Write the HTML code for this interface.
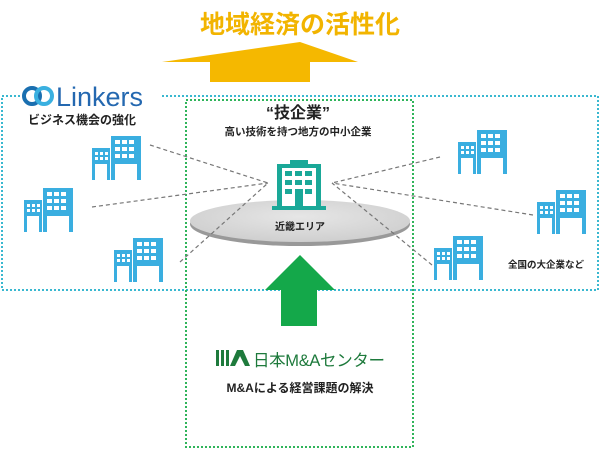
<!DOCTYPE html>
<html><head><meta charset="utf-8"><style>
body{margin:0;width:600px;height:451px;background:#fff;overflow:hidden;font-family:"Liberation Sans","Noto Sans CJK JP",sans-serif;}
</style></head><body>
<svg width="600" height="451" viewBox="0 0 600 451" xmlns="http://www.w3.org/2000/svg" font-family="Liberation Sans, Noto Sans CJK JP, sans-serif">
<defs>
<g id="bld" fill="#3aaee0">
<path d="M0 12h18v32h-3v-16h-12v16h-3z"/>
<path d="M19 0h30v44h-4v-16h-22v16h-4z"/>
<g fill="#fff">
<rect x="3" y="16" width="3" height="3"/><rect x="8" y="16" width="3" height="3"/><rect x="13" y="16" width="3" height="3"/>
<rect x="3" y="21" width="3" height="3"/><rect x="8" y="21" width="3" height="3"/><rect x="13" y="21" width="3" height="3"/>
<rect x="23" y="4" width="5" height="4"/><rect x="30" y="4" width="5" height="4"/><rect x="37" y="4" width="5" height="4"/>
<rect x="23" y="11" width="5" height="4"/><rect x="30" y="11" width="5" height="4"/><rect x="37" y="11" width="5" height="4"/>
<rect x="23" y="18" width="5" height="4"/><rect x="30" y="18" width="5" height="4"/><rect x="37" y="18" width="5" height="4"/>
</g></g>
<radialGradient id="el" cx="50%" cy="40%" r="60%"><stop offset="0" stop-color="#e6e6e6"/><stop offset="1" stop-color="#cfcfcf"/></radialGradient>
</defs>
<text x="300" y="33" text-anchor="middle" font-size="25" font-weight="bold" fill="#f2b400">地域経済の活性化</text>
<polygon points="162,62 300,42 358,62" fill="#f5b800"/>
<rect x="210" y="62" width="100" height="20" fill="#f5b800"/>
<rect x="2" y="96" width="596" height="194" fill="none" stroke="#3ab8d0" stroke-width="2" stroke-dasharray="2,2"/>
<rect x="186" y="100" width="227" height="347" fill="none" stroke="#2fb45a" stroke-width="2" stroke-dasharray="2,2"/>
<rect x="20" y="82" width="140" height="28" fill="#fff"/>
<g fill="none" stroke-width="4"><circle cx="32" cy="96" r="8" stroke="#1a6fb0"/><circle cx="44" cy="96" r="8" stroke="#3ab0e0"/></g>
<text x="56" y="106" font-size="27" fill="#2468b0">Linkers</text>
<text x="28" y="124" font-size="12" font-weight="bold" fill="#222">ビジネス機会の強化</text>
<text x="298" y="118" text-anchor="middle" font-size="16" font-weight="bold" fill="#222">“技企業”</text>
<text x="298" y="135" text-anchor="middle" font-size="10.5" font-weight="bold" fill="#222">高い技術を持つ地方の中小企業</text>
<ellipse cx="300" cy="224" rx="110" ry="22" fill="#999"/>
<ellipse cx="300" cy="221" rx="110" ry="21" fill="url(#el)"/>
<g stroke="#777" stroke-width="1.2" stroke-dasharray="4,3" fill="none">
<line x1="150" y1="145" x2="268" y2="183"/><line x1="92" y1="207" x2="268" y2="183"/><line x1="180" y1="262" x2="268" y2="183"/>
<line x1="440" y1="157" x2="332" y2="183"/><line x1="533" y1="215" x2="332" y2="183"/><line x1="432" y1="265" x2="332" y2="183"/>
</g>
<g fill="#1aa898">
<rect x="290" y="160" width="18" height="5"/>
<path d="M277 164h44v44h-44z"/>
</g>
<rect x="272" y="206" width="54" height="4" fill="#1aa898"/>
<rect x="282" y="168" width="34" height="38" fill="#fff"/>
<g fill="#1aa898">
<rect x="285" y="171" width="7" height="5"/><rect x="295" y="171" width="7" height="5"/><rect x="305" y="171" width="7" height="5"/>
<rect x="285" y="180" width="7" height="5"/><rect x="295" y="180" width="7" height="5"/><rect x="305" y="180" width="7" height="5"/>
<rect x="285" y="189" width="7" height="5"/><rect x="305" y="189" width="7" height="5"/>
<rect x="295" y="189" width="8" height="18"/>
</g>
<text x="300" y="230" text-anchor="middle" font-size="10" font-weight="bold" fill="#222">近畿エリア</text>
<use href="#bld" x="92" y="136"/>
<use href="#bld" x="24" y="188"/>
<use href="#bld" x="114" y="238"/>
<use href="#bld" x="458" y="130"/>
<use href="#bld" x="537" y="190"/>
<use href="#bld" x="434" y="236"/>
<text x="508" y="268" font-size="9.5" font-weight="bold" fill="#222">全国の大企業など</text>
<polygon points="300,255 335,290 265,290" fill="#14a84a"/>
<rect x="281" y="289" width="36" height="37" fill="#14a84a"/>
<g fill="#1e7a3c">
<rect x="216" y="350" width="3" height="16"/><rect x="221" y="350" width="3" height="16"/><rect x="226" y="350" width="3" height="16"/>
<polygon points="237,350 243,350 250,366 245,366 240,356 235,366 230,366"/>
</g>
<text x="253" y="366" font-size="16.5" fill="#1e7a3c" textLength="132">日本M&amp;Aセンター</text>
<text x="300" y="392" text-anchor="middle" font-size="12" font-weight="bold" fill="#222">M&amp;Aによる経営課題の解決</text>
</svg>
</body></html>
